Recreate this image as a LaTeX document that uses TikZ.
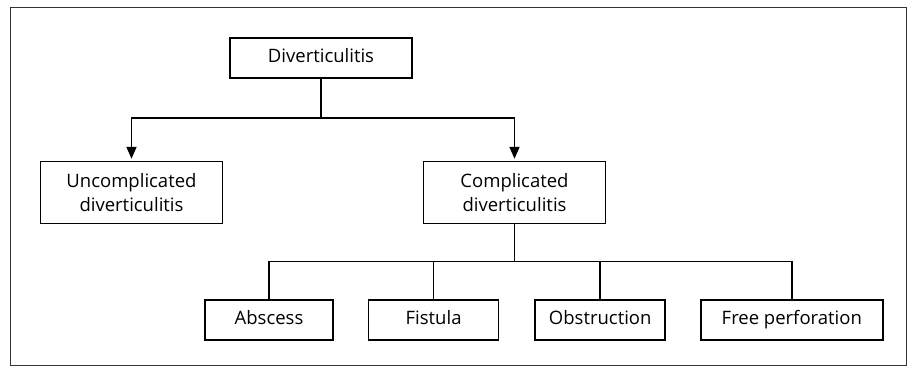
\documentclass[tikz,border=0pt]{standalone}
\usepackage{fontspec}
\setmainfont{Open Sans}
\usepackage{tikz}
\usetikzlibrary{positioning, arrows.meta}
\usetikzlibrary{calc}
\tikzstyle{box} = [rectangle, minimum height=40pt, text centered, draw=black, line width=1.6pt, inner sep=0pt, text height=13.5pt, text depth=4pt]
\tikzstyle{bigbox} = [box, minimum width=182pt, minimum height=62pt, align=center, text height=, text depth=]
\tikzstyle{arrow} = [line width=1.6pt, -{Triangle[length=12pt,width=10pt]}, shorten >=2pt]
\tikzstyle{line} = [line width=1.6pt]
\tikzstyle{every node}=[font=\fontsize{18.5}{24}\selectfont]

\begin{document}
\begin{tikzpicture}[x=1pt, y=1pt]
		\useasboundingbox (0,0) rectangle (912,-368);
		\draw[line width=1pt, black!80] (10,-7) rectangle (906,-365);
		
		\node (diver) [box, minimum width=182pt] at (321,-58) {Diverticulitis};
		\node (uncomp) [bigbox, below=82pt of diver, xshift=-189.5pt] {Uncomplicated\\diverticulitis};
		\node (comp) [bigbox, below=82pt of diver, xshift=193.5pt] {Complicated\\diverticulitis};
		
		\node (abscess) [box, minimum width=128pt, below=75pt of comp, xshift=-245.5pt] {Abscess};
		\node (fistula) [box, minimum width=130pt, right=34pt of abscess] {Fistula};
		\node (obstr) [box, minimum width=130pt, right=35pt of fistula] {Obstruction};
		\node (freeperf) [box, minimum width=182pt, right=34pt of obstr] {Free perforation};
		
		%连接具体形状
		\coordinate (split1) at ($(diver.south)+(0,-39)$);
		\coordinate (split2) at ($(comp.south)+(0,-37)$);
		\draw [line](diver) -- (split1);
		\draw [arrow](split1) -| (uncomp);
		\draw [arrow](split1) -| (comp);
		\draw [line](comp) -- (split2);
		\foreach \child in {abscess, fistula, obstr, freeperf}
			\draw [line](split2) -| (\child);
		
	\end{tikzpicture}
\end{document}
